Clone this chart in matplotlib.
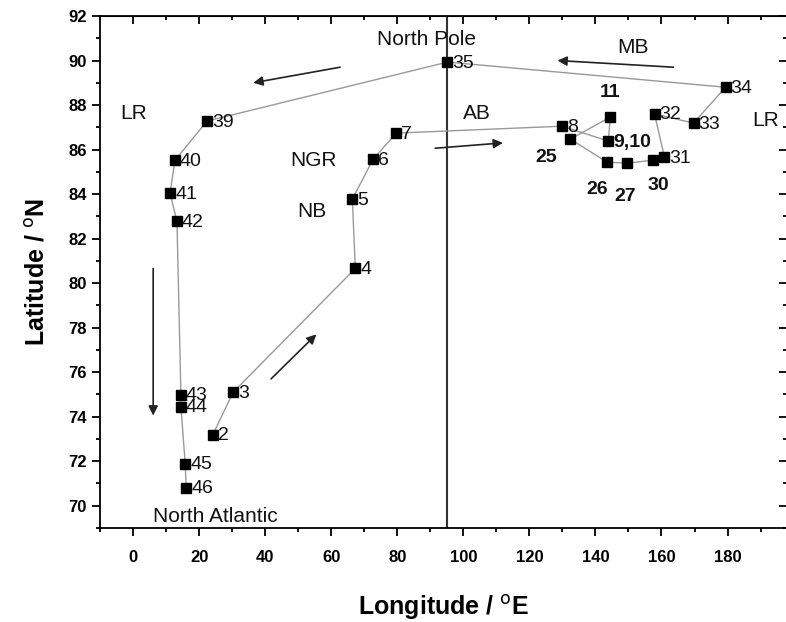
import matplotlib
matplotlib.use("Agg")
import matplotlib.pyplot as plt
from matplotlib.ticker import MultipleLocator

plt.rcParams['font.family'] = ['Liberation Sans', 'DejaVu Sans']

# Drift track stations (in order of travel)
labels = ['2', '3', '4', '5', '6', '7', '8', '9,10', '11', '25', '26', '27',
          '30', '31', '32', '33', '34', '35', '39', '40', '41', '42', '43',
          '44', '45', '46']
lon = [24.2, 30.3, 67.3, 66.4, 72.7, 79.7, 130.0, 143.9, 144.5, 132.4, 143.6,
       149.7, 157.3, 160.9, 157.9, 169.7, 179.4, 95.2, 22.4, 12.7, 11.2, 13.3,
       14.5, 14.5, 15.8, 16.1]
lat = [73.2, 75.1, 80.66, 83.77, 85.57, 86.74, 87.05, 86.38, 87.46, 86.47,
       85.43, 85.39, 85.52, 85.66, 87.6, 87.19, 88.8, 89.93, 87.28, 85.52,
       84.04, 82.78, 74.99, 74.45, 71.89, 70.81]

# Region names
region_names = ['North Pole', 'MB', 'AB', 'LR', 'LR', 'NGR', 'NB', 'North Atlantic']
region_lon = [89.0, 151.5, 104.0, 191.5, 0.3, 54.5, 54.0, 25.0]
region_lat = [90.95, 90.6, 87.6, 87.3, 87.6, 85.5, 83.2, 69.5]

# Direction arrows (start lon, start lat, end lon, end lat)
arrow_x0 = [62.7, 163.6, 91.5, 41.8, 6.1]
arrow_y0 = [89.7, 89.7, 86.06, 75.7, 80.66]
arrow_x1 = [36.4, 128.5, 112.0, 55.5, 6.1]
arrow_y1 = [89.0, 90.0, 86.3, 77.7, 74.05]

pole_lon = 95.0

fig = plt.figure(figsize=(7.86, 6.22), dpi=100)
ax = fig.add_axes([100/786, 1-528/622, 687/786, (528-16)/622])

ax.axvline(pole_lon, color='#333333', lw=1.5, zorder=1)
ax.plot(lon, lat, '-', color='#999999', lw=1.0, zorder=2)
ax.plot(lon, lat, 's', color='black', ms=7, zorder=3)

bold_set = {'9,10', '11', '25', '26', '27', '30'}
offsets = {'11': (0, 16, 'center', 'bottom'),
           '25': (-24, -18, 'center', 'center'),
           '26': (-10, -27, 'center', 'center'),
           '27': (-2, -33, 'center', 'center'),
           '30': (6, -25, 'center', 'center')}
for lab, x, y in zip(labels, lon, lat):
    weight = 'bold' if lab in bold_set else 'normal'
    if lab in offsets:
        dx, dy, ha, va = offsets[lab]
    else:
        dx, dy, ha, va = (5, -1, 'left', 'center')
    ax.annotate(lab, (x, y), xytext=(dx, dy), textcoords='offset pixels',
                ha=ha, va=va, fontsize=14, fontweight=weight, color='#111111',
                zorder=4)

for name, x, y in zip(region_names, region_lon, region_lat):
    ax.text(x, y, name, fontsize=15, ha='center', va='center', color='#111111')

for x0, y0, x1, y1 in zip(arrow_x0, arrow_y0, arrow_x1, arrow_y1):
    ax.annotate('', xy=(x1, y1), xytext=(x0, y0),
                arrowprops=dict(arrowstyle='-|>', color='#222222', lw=1.2,
                                mutation_scale=14, shrinkA=0, shrinkB=0))

ax.set_xlim(-10, 198)
ax.set_ylim(69, 92)
ax.xaxis.set_major_locator(MultipleLocator(20))
ax.xaxis.set_minor_locator(MultipleLocator(10))
ax.yaxis.set_major_locator(MultipleLocator(2))
ax.yaxis.set_minor_locator(MultipleLocator(1))
ax.set_xticks(range(0, 181, 20))

ax.tick_params(which='both', direction='out', bottom=True, left=True,
               top=False, right=False, width=1.3)
ax.tick_params(which='major', length=6)
ax.tick_params(which='minor', length=3)
for lbl in ax.get_xticklabels() + ax.get_yticklabels():
    lbl.set_fontweight('bold')
    lbl.set_fontsize(12)
ax.tick_params(axis='x', pad=10)

ax2 = ax.secondary_xaxis('top')
ax2.xaxis.set_major_locator(MultipleLocator(20))
ax2.xaxis.set_minor_locator(MultipleLocator(10))
ax2.tick_params(which='both', direction='in', labeltop=False, width=1.3)
ax2.tick_params(which='major', length=6)
ax2.tick_params(which='minor', length=3)
ax3 = ax.secondary_yaxis('right')
ax3.yaxis.set_major_locator(MultipleLocator(2))
ax3.yaxis.set_minor_locator(MultipleLocator(1))
ax3.tick_params(which='both', direction='in', labelright=False, width=1.3)
ax3.tick_params(which='major', length=6)
ax3.tick_params(which='minor', length=3)

for s in ax.spines.values():
    s.set_linewidth(1.3)

ax.set_xlabel('Longitude / $^{\\mathrm{o}}$E', fontsize=18, fontweight='bold', labelpad=20)
ax.set_ylabel('Latitude / $^{\\mathrm{o}}$N', fontsize=18, fontweight='bold', labelpad=14)

fig.savefig('out.png', dpi=100)
